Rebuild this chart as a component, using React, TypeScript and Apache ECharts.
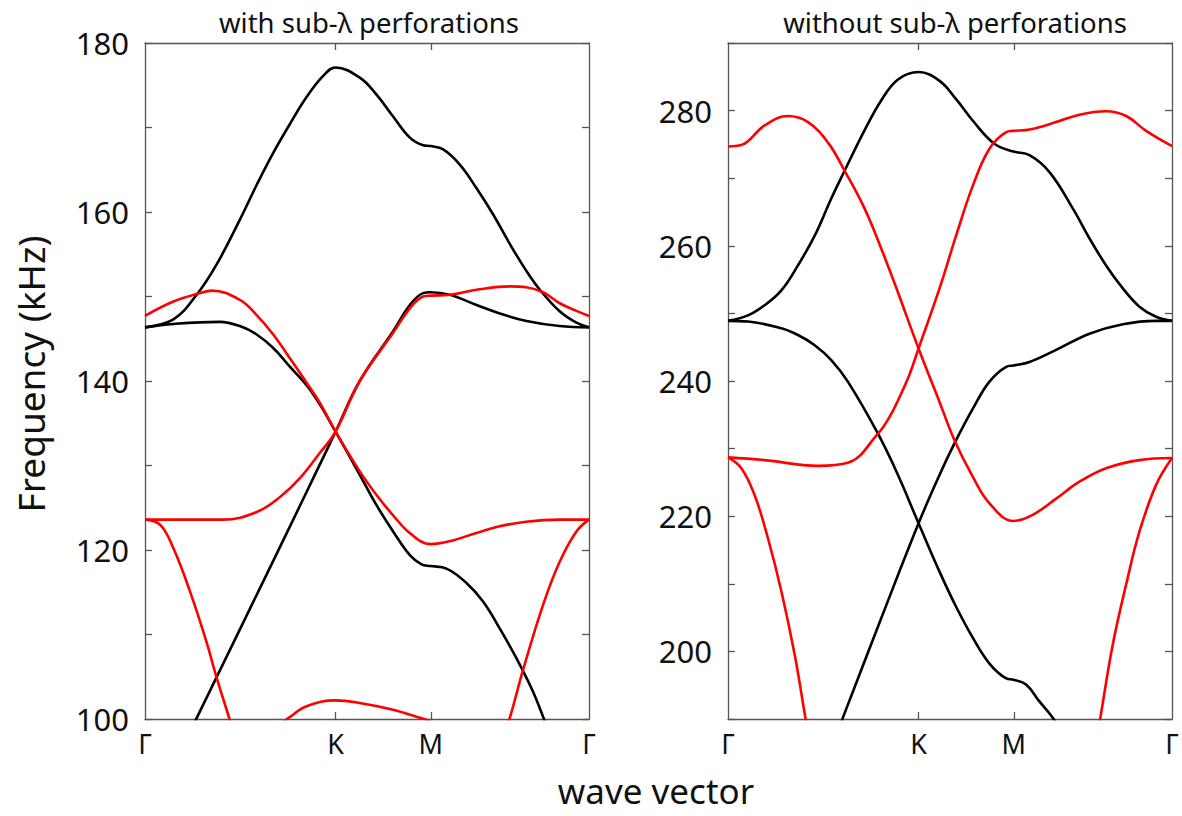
import React, { useEffect, useRef } from 'react';
import * as echarts from 'echarts';

// High-symmetry points along the wave-vector path (Γ-K-M-Γ)
const kPointPositions = [0, 1, 1.5, 2.33];
const kPointLabels = ['Γ', 'K', 'M', 'Γ'];
const kInnerTicks = [1, 1.5];

const panelTitles = ['with sub-λ perforations', 'without sub-λ perforations'];
const yRanges = [
  [100, 180],
  [190, 290],
];

// ---- Left panel: with sub-λ perforations ----
const leftBlackTop = [[0, 146.35], [0.149, 147.3], [0.271, 150.2], [0.376, 153.8], [0.498, 159.1], [0.586, 163.2], [0.673, 167.0], [0.76, 170.4], [0.848, 173.6], [0.935, 176.1], [1.0, 177.1], [1.127, 175.9], [1.215, 173.9], [1.302, 171.3], [1.39, 168.8], [1.46, 167.9], [1.498, 167.8], [1.565, 167.4], [1.652, 165.6], [1.74, 162.8], [1.827, 159.7], [1.915, 156.2], [2.002, 153.0], [2.072, 150.8], [2.176, 148.25], [2.264, 146.9], [2.33, 146.35]];
const leftBlackDown = [[0, 146.35], [0.149, 146.75], [0.393, 147.0], [0.498, 146.5], [0.586, 145.5], [0.673, 143.9], [0.76, 141.7], [0.848, 139.5], [0.918, 137.2], [1.0, 134.0], [1.127, 128.9], [1.215, 125.3], [1.302, 122.2], [1.39, 119.4], [1.451, 118.3], [1.498, 118.1], [1.582, 117.8], [1.687, 116.1], [1.774, 113.9], [1.862, 110.7], [1.949, 107.2], [2.037, 103.2], [2.092, 100.1], [2.15, 97.0]];
const leftBlackUp = [[0.25, 99.1], [0.271, 100.1], [0.5, 110.7], [0.75, 122.3], [0.9, 129.3], [1.0, 134.0], [1.127, 140.0], [1.302, 145.9], [1.39, 149.0], [1.46, 150.4], [1.498, 150.5], [1.599, 150.2], [1.74, 149.0], [1.862, 148.0], [2.002, 147.1], [2.176, 146.5], [2.33, 146.35]];
const leftRedTop = [[0, 147.7], [0.149, 149.4], [0.289, 150.4], [0.35, 150.7], [0.498, 149.6], [0.586, 147.8], [0.673, 145.5], [0.76, 142.7], [0.848, 139.8], [0.918, 137.4], [1.0, 134.0], [1.127, 129.3], [1.215, 126.5], [1.302, 124.1], [1.39, 122.0], [1.498, 120.7], [1.61, 121.1], [1.722, 121.9], [1.862, 122.8], [2.0, 123.35], [2.176, 123.6], [2.33, 123.6]];
const leftRedUp = [[0, 123.6], [0.149, 123.6], [0.41, 123.6], [0.586, 124.5], [0.71, 126.3], [0.813, 128.5], [0.918, 131.5], [1.0, 134.0], [1.127, 140.0], [1.302, 145.7], [1.39, 148.6], [1.46, 150.0], [1.498, 150.1], [1.599, 150.2], [1.74, 150.8], [1.915, 151.2], [2.0, 151.1], [2.089, 150.5], [2.176, 149.2], [2.264, 148.3], [2.33, 147.7]];
const leftRedDownL = [[0, 123.6], [0.079, 123.0], [0.149, 120.2], [0.236, 115.1], [0.323, 109.1], [0.372, 105.2], [0.442, 100.1], [0.47, 98.0]];
const leftRedDownR = [[1.88, 98.0], [1.914, 100.1], [1.984, 105.8], [2.089, 113.5], [2.176, 118.6], [2.264, 122.2], [2.33, 123.6]];
const leftRedLow = [[0.72, 99.5], [0.752, 100.1], [0.848, 101.5], [1.0, 102.2], [1.127, 101.9], [1.302, 101.1], [1.451, 100.1], [1.5, 99.8]];

// ---- Right panel: without sub-λ perforations ----
const rightBlackTop = [[0, 248.9], [0.105, 249.7], [0.192, 251.2], [0.28, 253.4], [0.367, 257.1], [0.455, 261.5], [0.542, 267.0], [0.612, 271.1], [0.717, 277.1], [0.804, 281.5], [0.892, 284.6], [1.0, 285.7], [1.11, 284.4], [1.197, 281.7], [1.285, 278.5], [1.398, 275.1], [1.498, 273.95], [1.582, 273.4], [1.687, 270.9], [1.81, 265.5], [1.897, 261.1], [1.984, 257.1], [2.072, 253.7], [2.159, 251.0], [2.246, 249.5], [2.33, 248.9]];
const rightBlackDown = [[0, 248.9], [0.105, 248.8], [0.28, 247.8], [0.367, 246.8], [0.455, 245.3], [0.542, 243.1], [0.629, 239.9], [0.787, 232.2], [0.892, 226.1], [1.0, 218.95], [1.11, 211.8], [1.197, 206.6], [1.285, 202.0], [1.372, 198.2], [1.46, 196.0], [1.498, 195.8], [1.564, 195.1], [1.634, 192.6], [1.704, 190.2], [1.75, 188.0]];
const rightBlackUp = [[0.58, 188.5], [0.603, 190.2], [0.804, 204.9], [1.0, 218.95], [1.11, 226.1], [1.189, 230.8], [1.285, 235.9], [1.372, 239.9], [1.46, 242.1], [1.498, 242.3], [1.582, 242.8], [1.722, 244.6], [1.897, 247.0], [2.072, 248.4], [2.246, 248.9], [2.33, 248.9]];
const rightRedTop = [[0, 274.7], [0.07, 274.9], [0.192, 277.8], [0.315, 279.2], [0.42, 278.3], [0.524, 275.3], [0.612, 271.1], [0.717, 265.5], [0.804, 259.6], [0.892, 253.1], [1.0, 244.8], [1.11, 236.9], [1.189, 231.2], [1.285, 225.8], [1.372, 221.9], [1.498, 219.3], [1.599, 220.2], [1.722, 222.6], [1.844, 225.1], [1.984, 227.1], [2.159, 228.3], [2.33, 228.6]];
const rightRedUp = [[0, 228.7], [0.192, 228.3], [0.472, 227.45], [0.629, 227.9], [0.787, 232.2], [0.85, 234.8], [0.9, 237.6], [0.953, 241.0], [1.0, 244.8], [1.11, 253.7], [1.197, 261.5], [1.285, 268.9], [1.372, 274.35], [1.46, 276.8], [1.498, 277.0], [1.582, 277.2], [1.722, 278.3], [1.844, 279.4], [1.984, 279.9], [2.089, 279.2], [2.194, 277.0], [2.33, 274.75]];
const rightRedDownL = [[0, 228.7], [0.07, 227.1], [0.14, 223.1], [0.21, 216.7], [0.28, 208.9], [0.35, 199.5], [0.406, 190.2], [0.42, 188.0]];
const rightRedDownR = [[1.94, 188.0], [1.954, 190.2], [2.019, 201.0], [2.089, 209.85], [2.159, 217.7], [2.246, 224.6], [2.33, 228.6]];

const panels = [
  {
    black: [leftBlackTop, leftBlackDown, leftBlackUp],
    red: [leftRedTop, leftRedUp, leftRedDownL, leftRedDownR, leftRedLow],
  },
  {
    black: [rightBlackTop, rightBlackDown, rightBlackUp],
    red: [rightRedTop, rightRedUp, rightRedDownL, rightRedDownR],
  },
];

const FONT = '"Noto Sans", "Open Sans", sans-serif';
const AXIS_COLOR = '#555';

export default function App() {
  const ref = useRef<HTMLDivElement>(null);

  useEffect(() => {
    if (!ref.current) return;
    const chart = echarts.init(ref.current, null, { renderer: 'svg' });

    const gridLefts = [145, 728];
    const grids = gridLefts.map((l) => ({ left: l, top: 43, width: 444, height: 676 }));

    const kLabel = (v: number) => {
      const i = kPointPositions.findIndex((p) => Math.abs(p - v) < 1e-6);
      return i >= 0 ? kPointLabels[i] : '';
    };

    const xAxes: any[] = [];
    const yAxes: any[] = [];
    grids.forEach((_, gi) => {
      const lineStyle = { color: AXIS_COLOR, width: 1.3 };
      xAxes.push({
        gridIndex: gi, type: 'value', min: 0, max: kPointPositions[3], position: 'bottom',
        axisLine: { show: true, onZero: false, lineStyle },
        axisTick: { show: true, inside: true, length: 7, customValues: kInnerTicks, lineStyle },
        axisLabel: { show: true, customValues: kPointPositions, formatter: kLabel, fontSize: 27, color: '#111', fontFamily: FONT, margin: 11 },
        splitLine: { show: false },
      });
      xAxes.push({
        gridIndex: gi, type: 'value', min: 0, max: kPointPositions[3], position: 'top',
        axisLine: { show: true, onZero: false, lineStyle },
        axisTick: { show: true, inside: true, length: 7, customValues: kInnerTicks, lineStyle },
        axisLabel: { show: false },
        splitLine: { show: false },
      });
      const [mn, mx] = yRanges[gi];
      yAxes.push({
        gridIndex: gi, type: 'value', min: mn, max: mx, interval: 10, position: 'left',
        axisLine: { show: true, onZero: false, lineStyle },
        axisTick: { show: true, inside: true, length: 7, lineStyle },
        axisLabel: {
          show: true, fontSize: 31, color: '#111', fontFamily: FONT, margin: 16,
          formatter: (v: number) => (v % 20 === 0 ? String(v) : ''),
        },
        splitLine: { show: false },
      });
      yAxes.push({
        gridIndex: gi, type: 'value', min: mn, max: mx, interval: 10, position: 'right',
        axisLine: { show: true, onZero: false, lineStyle },
        axisTick: { show: true, inside: true, length: 7, lineStyle },
        axisLabel: { show: false },
        splitLine: { show: false },
      });
    });

    const series: any[] = [];
    panels.forEach((p, gi) => {
      const add = (data: number[][], color: string) =>
        series.push({
          type: 'line', xAxisIndex: gi * 2, yAxisIndex: gi * 2, data,
          smooth: 0.4, showSymbol: false, symbol: 'none', clip: true,
          lineStyle: { color, width: 2.6 }, silent: true,
        });
      p.black.forEach((d) => add(d, '#000'));
      p.red.forEach((d) => add(d, '#ff0000'));
    });

    const titleCenters = [369, 955];
    const graphic: any[] = [
      ...panelTitles.map((t, i) => ({
        type: 'text', x: titleCenters[i], y: 22,
        style: { text: t, fontSize: 27.5, lineHeight: 30, fontFamily: FONT, fill: '#111', align: 'center', verticalAlign: 'middle' },
      })),
      {
        type: 'text', x: 30, y: 374, rotation: Math.PI / 2,
        style: { text: 'Frequency (kHz)', fontSize: 37, lineHeight: 40, fontFamily: FONT, fill: '#111', align: 'center', verticalAlign: 'middle' },
      },
      {
        type: 'text', x: 656, y: 790,
        style: { text: 'wave vector', fontSize: 35, lineHeight: 36, fontFamily: FONT, fill: '#111', align: 'center', verticalAlign: 'middle' },
      },
    ];

    chart.setOption({
      animation: false,
      backgroundColor: '#fff',
      grid: grids,
      xAxis: xAxes,
      yAxis: yAxes,
      series,
      graphic,
    });

    return () => chart.dispose();
  }, []);

  return (
    <div
      ref={ref}
      style={{ position: 'fixed', left: 0, top: 0, width: 1182, height: 816, background: '#fff' }}
    />
  );
}
